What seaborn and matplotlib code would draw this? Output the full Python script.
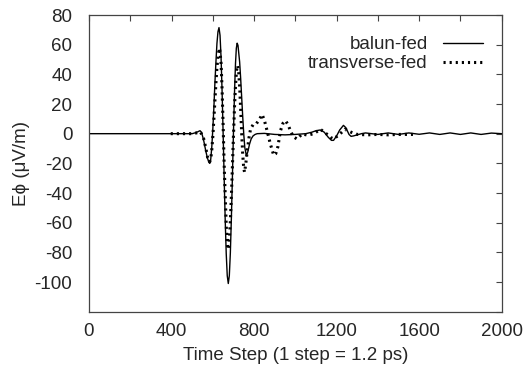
import numpy as np
import pandas as pd
import matplotlib
matplotlib.use("Agg")
import matplotlib.pyplot as plt
import seaborn as sns

# balun-fed (solid)
balun_t = [0, 100, 200, 300, 400, 500, 520, 538, 545, 555, 565, 573, 580, 585, 590,
           595, 600, 605, 610, 615, 620, 625, 630, 635, 640, 645, 650, 655, 660, 665,
           670, 675, 680, 685, 690, 695, 700, 705, 710, 714, 718, 722, 730, 735, 740,
           745, 750, 755, 763, 770, 778, 786, 795, 805, 815, 850, 900, 950, 1000, 1050,
           1080, 1100, 1121, 1140, 1160, 1175, 1185, 1200, 1215, 1233, 1245, 1260, 1270,
           1282, 1300, 1320, 1340, 1400, 1450, 1500, 1550, 1600, 1650, 1700, 1750, 1800,
           1850, 1900, 1950, 2000]
balun_v = [0, 0, 0, 0, 0, 0, 0.8, 2, 1, -4, -11, -16, -19, -20, -17.2,
           -9, 2.9, 17, 33.7, 48, 60.8, 68.7, 71.5, 66.3, 51.3, 28.4, 0.2, -29.7, -57.9, -80.8,
           -95.8, -101, -95.7, -80.4, -56.9, -28.9, 0.5, 27.1, 47.5, 57.6, 61, 59.5, 48.4, 37.2, 24.3,
           11.3, -0.4, -9.3, -15, -12, -7, -3.5, -1.5, -0.5, 0, 0.2, -0.5, -0.8, -0.5, 0,
           1, 2, 2.5, 1, -2.5, -4.5, -4.5, -1.5, 2.5, 5.6, 4, -0.5, -1.8,
           -1.5, -0.8, 0, 0.5, -0.5, 0.5, -0.5, 0.5, -0.4, 0.5, -0.5, 0.5, -0.5,
           0.5, -0.5, 0.4, 0]

# transverse-fed (dotted)
trans_t = [396, 450, 500, 520, 540, 555, 565, 575, 585, 590, 595, 600, 605, 610, 615,
           620, 626, 633, 640, 645, 650, 655, 660, 665, 669, 673, 677, 680, 685, 690,
           695, 700, 705, 710, 715, 720, 725, 730, 735, 740, 745, 750, 754, 760, 767,
           775, 783, 795, 810, 825, 839, 850, 863, 879, 895, 905, 915, 928, 940, 952,
           965, 976, 990, 1008, 1020, 1032, 1060, 1090, 1121, 1150, 1170, 1185, 1210,
           1240, 1270, 1300, 1350, 1400, 1450, 1500, 1570]
trans_v = [0, 0, 0, 0.5, 1.2, -3, -9, -16, -19, -17, -11.1, -2, 9.4, 21.8, 33.9,
           44.6, 53.6, 57.6, 47.6, 29.7, 5.6, -20.8, -41, -61.7, -72.9, -78, -75.8, -71.3, -59.1, -42,
           -22.2, -1.7, 17.4, 32.4, 42.7, 46, 42.2, 31.7, 16.6, 0.1, -14.2, -23.5, -26, -20, -11.5,
           -3, 3.2, 6, 6.5, 9.5, 12.9, 9, 2, -7, -14.5, -13.5, -9, 2, 7, 8.8,
           6, 2, -2, -3.6, -2, -0.2, -1, 0, 3, 0, -2.5, -3.5, -1,
           3, 1, -0.5, -0.8, -0.5, -0.8, -0.5, -0.5]

x_ticks = list(range(0, 2001, 200))
x_labels = [str(v) if v % 400 == 0 else "" for v in x_ticks]
y_ticks = list(range(-120, 81, 20))
y_labels = [str(v) if v != -120 else "" for v in y_ticks]

df = pd.concat([
    pd.DataFrame({"t": balun_t, "v": balun_v, "series": "balun-fed"}),
    pd.DataFrame({"t": trans_t, "v": trans_v, "series": "transverse-fed"}),
])

sns.set_style("white")
plt.rcParams["font.family"] = ["Liberation Sans", "DejaVu Sans"]

FS = 13.5
fig = plt.figure(figsize=(5.23, 3.71), dpi=100)
ax = fig.add_axes([89 / 523, 1 - 311.7 / 371, (501.7 - 89) / 523, (311.7 - 15) / 371])

sns.lineplot(data=df[df.series == "balun-fed"], x="t", y="v", ax=ax, color="black",
             linewidth=1.0, label="balun-fed", sort=False)
sns.lineplot(data=df[df.series == "transverse-fed"], x="t", y="v", ax=ax, color="black",
             linewidth=2.2, linestyle=(0, (0.7, 1.3)), label="transverse-fed", sort=False)

ax.set_xlim(0, 2000)
ax.set_ylim(-120, 80)
ax.set_xticks(x_ticks)
ax.set_xticklabels(x_labels)
ax.set_yticks(y_ticks)
ax.set_yticklabels(y_labels)
ax.tick_params(direction="in", length=4, width=0.8, color="#444444", labelsize=FS,
               top=True, right=True)
ax.tick_params(axis="y", pad=12)
ax.tick_params(axis="x", pad=8)
for s in ax.spines.values():
    s.set_color("#444444")
    s.set_linewidth(0.9)

ax.set_xlabel("Time Step (1 step = 1.2 ps)", fontsize=FS, labelpad=5)
ax.set_ylabel("Eϕ (μV/m)", fontsize=FS, labelpad=3)

leg = ax.legend(loc="upper right", frameon=False, markerfirst=False, fontsize=FS,
                handlelength=2.15, handletextpad=0.8, labelspacing=0.1,
                borderaxespad=0, borderpad=0,
                bbox_to_anchor=((483 - 89) / 412.7, (311.7 - 36) / 296.7))
for txt in leg.get_texts():
    txt.set_ha("right")

fig.savefig("out.png", dpi=100)
